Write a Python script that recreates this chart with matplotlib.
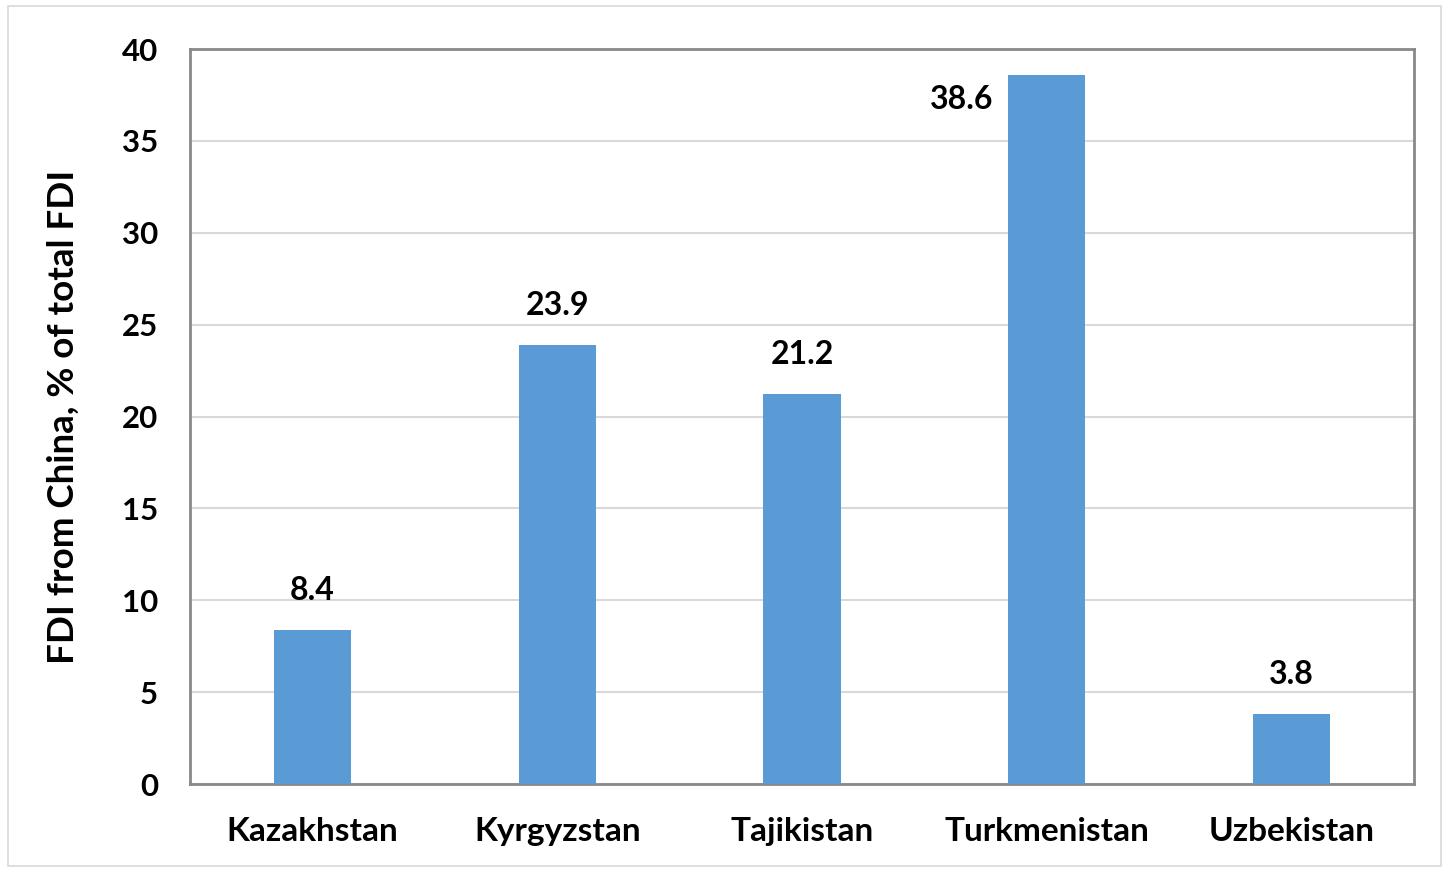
import matplotlib
matplotlib.use("Agg")
import matplotlib.pyplot as plt
from matplotlib.patches import Rectangle

countries = ["Kazakhstan", "Kyrgyzstan", "Tajikistan", "Turkmenistan", "Uzbekistan"]
values = [8.4, 23.9, 21.2, 38.6, 3.8]
labels = ["8.4", "23.9", "21.2", "38.6", "3.8"]
yticks = [0, 5, 10, 15, 20, 25, 30, 35, 40]
ylabel = "FDI from China, % of total FDI"

plt.rcParams['font.family'] = ['Lato', 'DejaVu Sans']
WT = 'bold'

W, H = 1449, 872
fig = plt.figure(figsize=(W / 100, H / 100), dpi=100)
fig.patches.append(Rectangle((8 / W, 1 - 866 / H), (1441 - 8) / W, (866 - 6) / H,
                             transform=fig.transFigure, fill=False,
                             edgecolor="#D9D9D9", linewidth=1.2))
ax = fig.add_axes([190 / W, 1 - 784 / H, (1414 - 190) / W, (784 - 49) / H])

x = list(range(len(countries)))
ax.bar(x, values, width=0.315, color="#5B9BD5", zorder=3)
ax.set_xlim(-0.5, len(countries) - 0.5)
ax.set_ylim(0, 40)
ax.set_yticks(yticks)
ax.set_yticklabels([str(t) for t in yticks], fontsize=22.5, fontweight=WT)
ax.set_xticks(x)
ax.set_xticklabels(countries, fontsize=24, fontweight=WT)
ax.tick_params(axis='both', length=0)
ax.tick_params(axis='y', pad=23)
ax.tick_params(axis='x', pad=24)
ax.grid(axis='y', color="#D9D9D9", linewidth=1.5, zorder=0)
for s in ax.spines.values():
    s.set_color("#898989")
    s.set_linewidth(2)
ax.set_ylabel(ylabel, fontsize=26.5, fontweight=WT, labelpad=30)

for i, (v, lab) in enumerate(zip(values, labels)):
    if v > 35:
        ax.annotate(lab, (i - 0.1575, v), xytext=(-11, -18), textcoords='offset points',
                    ha='right', va='center', fontsize=23, fontweight=WT)
    else:
        ax.annotate(lab, (i, v), xytext=(0, 28.5), textcoords='offset points',
                    ha='center', va='center', fontsize=23, fontweight=WT)

fig.savefig("out.png", dpi=100)
